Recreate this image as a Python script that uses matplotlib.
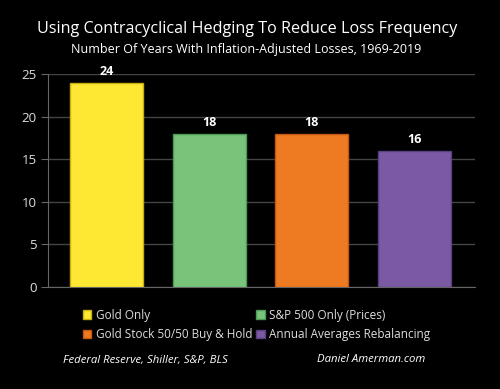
import numpy as np
import matplotlib.pyplot as plt
from matplotlib.patches import Patch

labels = ["Gold Only", "S&P 500 Only (Prices)",
          "Gold Stock 50/50 Buy & Hold", "Annual Averages Rebalancing"]
years = [24, 18, 18, 16]
colors = ["#FFE833", "#77C47A", "#EE7A22", "#7B5AA3"]
edges = ["#C8B010", "#4E9A55", "#C05A10", "#5A3F80"]
yticks = [0, 5, 10, 15, 20, 25]

plt.rcParams['font.family'] = ['Open Sans', 'DejaVu Sans']

fig = plt.figure(figsize=(5, 3.89), dpi=100, facecolor="black")
ax = fig.add_axes([48/500, 1-287/389, 427/500, 213/389])
ax.set_facecolor("black")

x = np.arange(len(years))
ax.bar(x, years, width=0.71, color=colors, edgecolor=edges, linewidth=1, zorder=3)
for xi, v in zip(x, years):
    ax.text(xi, v + 0.5, str(v), ha="center", va="bottom", color="white",
            fontsize=9, fontweight="bold", zorder=4)

ax.set_xlim(-0.57, 3.59)
ax.set_ylim(0, 25)
ax.set_yticks(yticks)
ax.set_xticks([])
ax.grid(axis="y", color="#444444", linewidth=1, zorder=0)
for s in ["top", "right"]:
    ax.spines[s].set_visible(False)
ax.spines["left"].set_color("#666666")
ax.spines["bottom"].set_color("#666666")
ax.tick_params(axis="y", colors="#666666", labelcolor="#DDDDDD", labelsize=9.5,
               length=5, pad=3)

fig.text(0.495, 1-29/389, "Using Contracyclical Hedging To Reduce Loss Frequency",
         ha="center", va="center", color="white", fontsize=11.6)
fig.text(0.493, 1-50/389, "Number Of Years With Inflation-Adjusted Losses, 1969-2019",
         ha="center", va="center", color="white", fontsize=9)

# legend laid out row by row like the original
order = [0, 2, 1, 3]
handles = [Patch(facecolor=colors[i], edgecolor=edges[i]) for i in order]
leg = fig.legend(handles, [labels[i] for i in order], ncol=2, loc="upper left",
                 bbox_to_anchor=(72/500, 1-298/389), frameon=False,
                 fontsize=8.5, labelcolor="#DDDDDD", handlelength=0.7,
                 handleheight=0.7, handletextpad=0.4, columnspacing=0.35,
                 labelspacing=0.55)

fig.text(63/500, 1-360/389, "Federal Reserve, Shiller, S&P, BLS", ha="left",
         va="center", color="white", fontsize=8.2, style="italic")
fig.text(317/500, 1-360/389, "Daniel Amerman.com", ha="left",
         va="center", color="white", fontsize=8.2, style="italic")

fig.savefig("out.png", dpi=100, facecolor="black")
